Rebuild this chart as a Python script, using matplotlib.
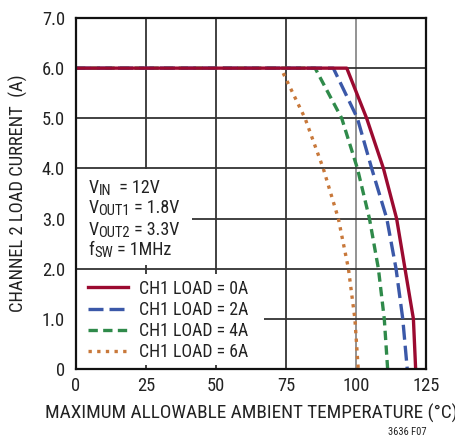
import matplotlib
matplotlib.use("Agg")
import matplotlib.pyplot as plt
from matplotlib.lines import Line2D
from matplotlib import transforms

plt.rcParams['font.family'] = ['Roboto Condensed', 'DejaVu Sans']

# Data (temperature °C, current A)
t_0a = [0, 96.7, 103.8, 109.8, 114.5, 117.5, 120.5, 121.3]
i_0a = [6.0, 6.0, 5.0, 4.0, 3.0, 2.0, 1.0, 0.0]
t_2a = [0, 91.9, 100.5, 105.6, 111.0, 114.3, 116.7, 118.3]
i_2a = [6.0, 6.0, 5.0, 4.0, 3.0, 2.0, 1.0, 0.0]
t_4a = [0, 85.4, 94.9, 100.5, 104.8, 108.0, 110.1, 111.3]
i_4a = [6.0, 6.0, 5.0, 4.0, 3.0, 2.0, 1.0, 0.0]
t_6a = [74.0, 81.8, 88.3, 93.7, 97.3, 99.6, 100.8]
i_6a = [5.9, 5.0, 4.0, 3.0, 2.0, 1.0, 0.0]

labels = ['CH1 LOAD = 0A', 'CH1 LOAD = 2A', 'CH1 LOAD = 4A', 'CH1 LOAD = 6A']
xticks = [0, 25, 50, 75, 100, 125]
xticklabels = ['0', '25', '50', '75', '100', '125']
yticks = [0, 1, 2, 3, 4, 5, 6, 7]
yticklabels = ['0', '1.0', '2.0', '3.0', '4.0', '5.0', '6.0', '7.0']

# conditions text: (main, subscript, rest)
cond_lines = [('V', 'IN', '  = 12V'),
              ('V', 'OUT1', ' = 1.8V'),
              ('V', 'OUT2', ' = 3.3V'),
              ('f', 'SW', ' = 1MHz')]

fig = plt.figure(figsize=(4.56, 4.36), dpi=100)
ax = fig.add_axes([76/456, 67/436, 350/456, 351/436])

ax.set_xlim(0, 125)
ax.set_ylim(0, 7)

# grid
for x in xticks[1:-1]:
    ax.axvline(x, color='#8a8a8a' if x == 100 else '#333333', lw=1.3, zorder=1)
for y in yticks[1:-1]:
    ax.axhline(y, color='#333333', lw=1.3, zorder=1)

c_red = '#9b0a30'
c_blue = '#3b58a8'
c_green = '#2f8a4a'
c_orange = '#c8783a'

ls_blue = (0, (4.5, 1.8))
ls_green = (0, (2.8, 1.6))
ls_orange = (0, (1.0, 1.6))

ax.plot(t_6a, i_6a, color=c_orange, lw=2.4, linestyle=ls_orange, zorder=3)
ax.plot(t_4a, i_4a, color=c_green, lw=2.4, linestyle=ls_green, zorder=4)
ax.plot(t_2a, i_2a, color=c_blue, lw=2.4, linestyle=ls_blue, zorder=5)
ax.plot(t_0a, i_0a, color=c_red, lw=2.4, zorder=6)

# white boxes covering grid behind annotation and legend
ax.add_patch(plt.Rectangle((0, 2.08), 41.5, 1.9, facecolor='white', edgecolor='none', zorder=2))
ax.add_patch(plt.Rectangle((0, 0.08), 67.0, 1.82, facecolor='white', edgecolor='none', zorder=2))

tc = '#222222'
fs_main = 13
fs_sub = 10.5
renderer = fig.canvas.get_renderer()
baselines = [3.513, 3.113, 2.68, 2.28]
for (m, s, r), yb in zip(cond_lines, baselines):
    x0 = 4.4
    off = 0.0
    for txt, size, dy in ((m, fs_main, 0.0), (s, fs_sub, -2.5), (r, fs_main, 0.0)):
        tr = transforms.offset_copy(ax.transData, fig=fig, x=off, y=dy, units='dots')
        t = ax.text(x0, yb, txt, fontsize=size, va='baseline', ha='left',
                    transform=tr, zorder=7, color=tc)
        off += t.get_window_extent(renderer).width

handles = [
    Line2D([], [], color=c_red, lw=2.4),
    Line2D([], [], color=c_blue, lw=2.4, linestyle=ls_blue),
    Line2D([], [], color=c_green, lw=2.4, linestyle=ls_green),
    Line2D([], [], color=c_orange, lw=2.4, linestyle=ls_orange),
]
leg = ax.legend(handles, labels, loc='center left', bbox_to_anchor=(12/350, 0.97/7),
                frameon=False, fontsize=12.8, handlelength=2.25, handletextpad=0.6,
                labelspacing=0.18, borderaxespad=0.0, borderpad=0.0)
for t in leg.get_texts():
    t.set_color(tc)
leg.set_zorder(7)

ax.set_xticks(xticks)
ax.set_xticklabels(xticklabels, fontsize=13.3)
ax.set_yticks(yticks)
ax.set_yticklabels(yticklabels, fontsize=13.3)
ax.tick_params(length=0, pad=8, labelcolor=tc)
ax.tick_params(axis='x', pad=6)

for s in ax.spines.values():
    s.set_linewidth(1.6)
    s.set_color('#111111')
    s.set_zorder(8)

ax.set_xlabel('MAXIMUM ALLOWABLE AMBIENT TEMPERATURE (°C)', fontsize=13.9, labelpad=6, color=tc)
ax.set_ylabel('CHANNEL 2 LOAD CURRENT  (A)', fontsize=13.3, labelpad=10, color=tc)

fig.text(427/456, 1 - 432/436, '3636 F07', fontsize=7.6, ha='right', va='center', color=tc)

fig.savefig('out.png', dpi=100)
